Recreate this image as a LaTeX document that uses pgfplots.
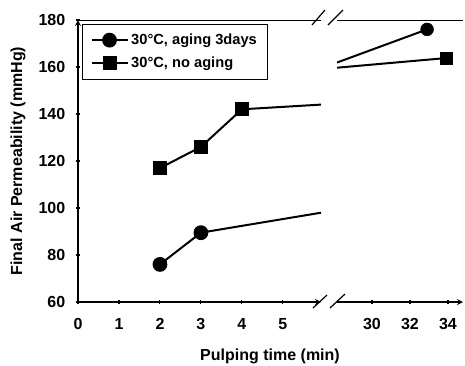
\documentclass[border=0pt]{standalone}
\usepackage{fontspec}
\setmainfont{Liberation Sans}
\usepackage{pgfplots}
\pgfplotsset{compat=1.18}
\begin{document}
\begin{tikzpicture}
\useasboundingbox (-58.5pt,-47.25pt) rectangle (290.25pt,226.5pt);
\pgfplotsset{every axis/.append style={
  scale only axis, height=211.5pt, ymin=60, ymax=180,
  tick align=outside, major tick length=3pt,
  tick style={black, line width=0.8pt},
  axis line style={black, line width=1pt, -},
  tick label style={font=\fontsize{12}{14}\selectfont\bfseries},
  xticklabel style={yshift=-7pt},
  yticklabel style={xshift=-4.5pt},
  /pgf/number format/assume math mode=true,
}}
\begin{axis}[
  at={(0,0)}, anchor=south west, width=182.25pt,
  xmin=0, xmax=5.93,
  axis x line=bottom, axis y line=left,
  xtick={0,1,2,3,4,5}, ytick={60,80,100,120,140,160,180},
  ylabel={Final Air Permeability (mmHg)},
  ylabel style={at={(axis description cs:-0.247,0.5)}, anchor=center, font=\fontsize{12}{14}\selectfont\bfseries},
  legend style={at={(axis description cs:0.0165,0.986)}, anchor=north west,
    draw=black, line width=0.8pt, font=\fontsize{11}{13}\selectfont\bfseries,
    inner xsep=6pt, inner ysep=5pt, row sep=4pt},
  legend cell align=left,
  legend image code/.code={\draw[mark repeat=2,mark phase=2] plot coordinates {(0pt,0pt)(13.5pt,0pt)(27pt,0pt)};},
]
\draw[black, line width=1pt] (rel axis cs:0,1) -- (rel axis cs:1,1);
\addplot[black, line width=1.5pt, mark=*, mark size=4.8pt] coordinates {(2,76) (3,89.5)};
\addlegendentry{30\textdegree C, aging 3days}
\addplot[black, line width=1.5pt, mark=square*, mark size=4.5pt] coordinates {(2,117) (3,126) (4,142)};
\addlegendentry{30\textdegree C, no aging}
\addplot[black, line width=1.5pt, no marks, forget plot] coordinates {(3,89.5) (5.93,98)};
\addplot[black, line width=1.5pt, no marks, forget plot] coordinates {(4,142) (5.93,144)};
\end{axis}
\begin{axis}[
  at={(194.25pt,0)}, anchor=south west, width=94.5pt,
  xmin=28.16, xmax=34.79,
  axis x line=bottom, axis y line=none,
  xtick={30,32,34},
]
\draw[black, line width=1pt] (rel axis cs:0,1) -- (rel axis cs:1,1);
\draw[gray!60, line width=0.6pt, densely dotted] (rel axis cs:1,0) -- (rel axis cs:1,1);
\addplot[black, line width=1.5pt, no marks] coordinates {(28.16,161.9) (32.9,176)};
\addplot[black, only marks, mark=*, mark size=4.8pt] coordinates {(32.9,176)};
\addplot[black, line width=1.5pt, no marks] coordinates {(28.16,159.7) (33.9,163.8)};
\addplot[black, only marks, mark=square*, mark size=4.5pt] coordinates {(33.9,163.8)};
\end{axis}
\draw[black, line width=0.9pt] (175.5pt,207.75pt) -- (185.25pt,219pt);
\draw[black, line width=0.9pt] (187.5pt,207.75pt) -- (198.75pt,219pt);
\draw[black, line width=0.9pt] (176.25pt,-4.5pt) -- (186.75pt,5.25pt);
\draw[black, line width=0.9pt] (189pt,-4.5pt) -- (200.25pt,6pt);
\node[font=\fontsize{12}{14}\selectfont\bfseries] at (144pt,-40.5pt) {Pulping time (min)};
\end{tikzpicture}
\end{document}
